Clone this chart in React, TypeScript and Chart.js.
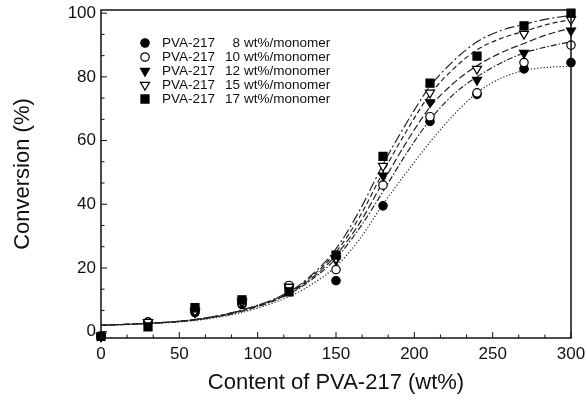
import React, { useEffect, useRef } from "react";
import { Chart, registerables } from "chart.js";

Chart.register(...registerables);

// ---- data ----
const X_VALUES = [0, 30, 60, 90, 120, 150, 180, 210, 240, 270, 300];
const S8 = [-1.5, 3, 6, 8.5, 14, 16, 39.5, 66, 74.5, 82.5, 84.5];
const S10 = [-1.5, 3, 7, 9, 14.5, 19.5, 46, 67.5, 75, 84.5, 90];
const S12 = [-1.5, 3, 6, 9, 14, 22.5, 49, 72, 79, 87.5, 94.5];
const S15 = [-1.5, 3, 6.5, 9.5, 14, 23, 52, 75, 82.5, 93.5, 98];
const S17 = [-1.5, 1.5, 7.5, 10, 12.5, 24, 55, 78, 86.5, 96, 100];

// fitted curves
const FIT_X = [0, 30, 60, 90, 120, 135, 150, 165, 180, 195, 210, 225, 240, 255, 270, 285, 300];
const F8 = [2, 2.5, 3.5, 6, 11, 15, 20.5, 29, 40, 50, 59.5, 68, 75, 79.5, 82, 83, 83.3];
const F10 = [2, 2.6, 3.7, 6.4, 11.8, 16.5, 23, 32.5, 44, 56, 66.5, 74.5, 80, 84.3, 87.5, 89.5, 91];
const F12 = [2, 2.6, 3.7, 6.5, 12, 17, 24, 34, 47, 59.5, 70.5, 78, 83.5, 87.5, 90.5, 93.3, 95.3];
const F15 = [2, 2.6, 3.8, 6.7, 12.3, 17.5, 25, 36, 50, 63, 74.5, 82.5, 88.5, 92, 94.3, 96.5, 98];
const F17 = [2, 2.6, 3.8, 6.8, 12.5, 18, 26, 38, 52.5, 65.5, 77, 85, 91, 94.5, 96.5, 98.2, 99.3];

const SERIES_NAMES = ["8", "10", "12", "15", "17"];
const X_TICKS = [0, 50, 100, 150, 200, 250, 300];
const Y_TICKS = [0, 20, 40, 60, 80, 100];

const FONT = "'Liberation Sans', Arial, sans-serif";
const INK = "#111";

type MarkerSpec = { style: string; filled: boolean; radius: number; rotation: number };
const MARKERS: MarkerSpec[] = [
  { style: "circle", filled: true, radius: 4.2, rotation: 0 },
  { style: "circle", filled: false, radius: 4.2, rotation: 0 },
  { style: "triangle", filled: true, radius: 5.2, rotation: 180 },
  { style: "triangle", filled: false, radius: 5.2, rotation: 180 },
  { style: "rect", filled: true, radius: 5.7, rotation: 0 },
];
const DASHES = [[1.2, 2], [6, 2, 1.5, 2], [7, 3], [5, 3], [10, 3, 2, 3]];

function drawMarker(ctx: CanvasRenderingContext2D, m: MarkerSpec, x: number, y: number) {
  ctx.beginPath();
  if (m.style === "circle") {
    ctx.arc(x, y, m.radius, 0, Math.PI * 2);
  } else if (m.style === "rect") {
    const s = Math.SQRT1_2 * m.radius;
    ctx.rect(x - s, y - s, 2 * s, 2 * s);
  } else {
    let rad = (m.rotation * Math.PI) / 180;
    for (let i = 0; i < 3; i++) {
      const px = x + Math.sin(rad) * m.radius;
      const py = y - Math.cos(rad) * m.radius;
      if (i === 0) ctx.moveTo(px, py);
      else ctx.lineTo(px, py);
      rad += (2 * Math.PI) / 3;
    }
    ctx.closePath();
  }
  ctx.fillStyle = m.filled ? "#000" : "#fff";
  ctx.fill();
  ctx.lineWidth = 1.2;
  ctx.strokeStyle = "#000";
  ctx.stroke();
}

const framePlugin = {
  id: "frameTicks",
  afterDraw(chart: any) {
    const { ctx, chartArea } = chart;
    const { left, right, top, bottom } = chartArea;
    const xs = chart.scales.x;
    const ys = chart.scales.y;
    ctx.save();
    ctx.strokeStyle = INK;
    ctx.lineWidth = 1.5;
    ctx.strokeRect(left, top, right - left, bottom - top);
    ctx.lineWidth = 1;
    for (let i = 0; i < X_TICKS.length; i++) {
      const v = X_TICKS[i];
      const px = xs.getPixelForValue(v);
      ctx.beginPath();
      ctx.moveTo(px, bottom);
      ctx.lineTo(px, bottom - 6);
      ctx.stroke();
      if (i < X_TICKS.length - 1) {
        const step = (X_TICKS[i + 1] - v) / 3;
        for (let k = 1; k < 3; k++) {
          const p = xs.getPixelForValue(v + k * step);
          ctx.beginPath();
          ctx.moveTo(p, bottom);
          ctx.lineTo(p, bottom - 3.5);
          ctx.stroke();
        }
      }
    }
    for (let i = 0; i < Y_TICKS.length; i++) {
      const v = Y_TICKS[i];
      const py = ys.getPixelForValue(v);
      ctx.beginPath();
      ctx.moveTo(left, py);
      ctx.lineTo(left + 6, py);
      ctx.stroke();
      if (i < Y_TICKS.length - 1) {
        const step = (Y_TICKS[i + 1] - v) / 3;
        for (let k = 1; k < 3; k++) {
          const p = ys.getPixelForValue(v + k * step);
          ctx.beginPath();
          ctx.moveTo(left, p);
          ctx.lineTo(left + 3.5, p);
          ctx.stroke();
        }
      }
    }
    // legend
    ctx.font = `13.5px ${FONT}`;
    ctx.fillStyle = INK;
    ctx.textBaseline = "middle";
    for (let i = 0; i < SERIES_NAMES.length; i++) {
      const y = top + 33 + i * 14;
      drawMarker(ctx, MARKERS[i], left + 44, y);
      ctx.fillStyle = INK;
      ctx.textAlign = "left";
      ctx.fillText("PVA-217", left + 61, y);
      ctx.textAlign = "right";
      ctx.fillText(SERIES_NAMES[i], left + 139, y);
      ctx.textAlign = "left";
      ctx.fillText("wt%/monomer", left + 143, y);
    }
    ctx.restore();
  },
};

export default function App() {
  const ref = useRef<HTMLCanvasElement | null>(null);

  useEffect(() => {
    if (!ref.current) return;
    const pointSeries = [S8, S10, S12, S15, S17];
    const fitSeries = [F8, F10, F12, F15, F17];
    const datasets: any[] = [];
    pointSeries.forEach((s, i) => {
      const m = MARKERS[i];
      datasets.push({
        label: `PVA-217 ${SERIES_NAMES[i]} wt%/monomer`,
        data: X_VALUES.map((x, j) => ({ x, y: s[j] })),
        showLine: false,
        pointStyle: m.style,
        pointRadius: m.radius,
        pointRotation: m.rotation,
        pointBackgroundColor: m.filled ? "#000" : "#fff",
        pointBorderColor: "#000",
        pointBorderWidth: 1.2,
        order: 5 - i,
        clip: false,
      });
    });
    fitSeries.forEach((s, i) => {
      datasets.push({
        label: `fit ${SERIES_NAMES[i]}`,
        data: FIT_X.map((x, j) => ({ x, y: s[j] })),
        showLine: true,
        pointRadius: 0,
        borderColor: "#222",
        borderWidth: 1.2,
        borderDash: DASHES[i],
        cubicInterpolationMode: "monotone",
        order: 10,
      });
    });

    const chart = new Chart(ref.current, {
      type: "scatter",
      data: { datasets },
      options: {
        animation: false,
        responsive: false,
        events: [],
        layout: { padding: { top: 10, right: 16, left: 0, bottom: 0 } },
        plugins: { legend: { display: false }, tooltip: { enabled: false } },
        scales: {
          x: {
            type: "linear",
            min: 0,
            max: 300,
            afterBuildTicks: (s: any) => {
              s.ticks = X_TICKS.map((v) => ({ value: v }));
            },
            afterFit: (s: any) => {
              s.height = 65;
              s.paddingLeft = 0;
              s.paddingRight = 0;
            },
            grid: { display: false, drawTicks: false },
            border: { display: false },
            ticks: {
              color: INK,
              font: { family: FONT, size: 17 },
              padding: 6,
              maxRotation: 0,
              autoSkip: false,
            },
            title: {
              display: true,
              text: "Content of PVA-217 (wt%)",
              color: INK,
              font: { family: FONT, size: 22 },
              padding: { top: 0, bottom: 7 },
            },
          },
          y: {
            type: "linear",
            min: -2,
            max: 101,
            afterBuildTicks: (s: any) => {
              s.ticks = Y_TICKS.map((v) => ({ value: v }));
            },
            afterFit: (s: any) => {
              s.width = 101;
              s.paddingTop = 0;
              s.paddingBottom = 0;
            },
            grid: { display: false, drawTicks: false },
            border: { display: false },
            ticks: {
              color: INK,
              font: { family: FONT, size: 17 },
              padding: 5,
              autoSkip: false,
            },
            title: {
              display: true,
              text: "Conversion (%)",
              color: INK,
              font: { family: FONT, size: 22 },
              padding: { top: 10, bottom: 0 },
            },
          },
        },
      },
      plugins: [framePlugin],
    });
    return () => chart.destroy();
  }, []);

  return (
    <div style={{ position: "fixed", left: 0, top: 0, width: 587, height: 403, background: "#fff" }}>
      <canvas ref={ref} width={587} height={403} style={{ display: "block" }} />
    </div>
  );
}
